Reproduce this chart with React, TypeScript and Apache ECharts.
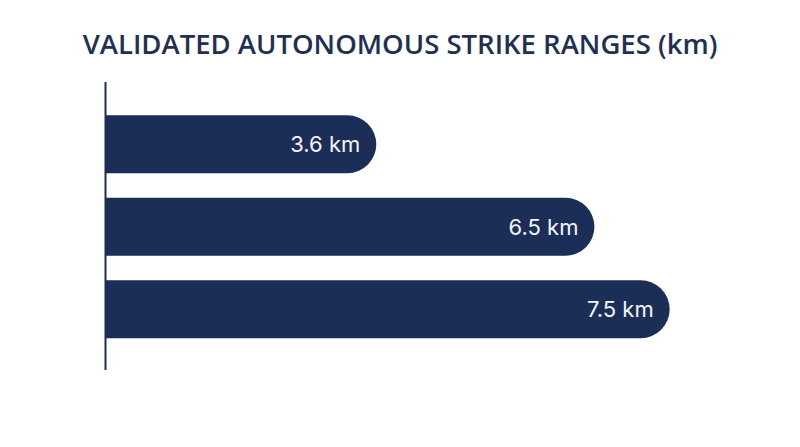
import React, { useEffect, useRef } from 'react';
import * as echarts from 'echarts';

const categories: string[] = ['Test A', 'Test B', 'Test C'];
const rangesKm: number[] = [3.6, 6.5, 7.5];
const axisMax = 9;

const NAVY = '#1b2e58';

export default function App(): JSX.Element {
    const chartRef = useRef<HTMLDivElement>(null);

    useEffect(() => {
        if (chartRef.current === null) return;
        const chart = echarts.init(chartRef.current, undefined, { renderer: 'svg' });

        const option: echarts.EChartsOption = {
            animation: false,
            backgroundColor: '#ffffff',
            title: {
                text: 'VALIDATED AUTONOMOUS STRIKE RANGES (km)',
                left: 'center',
                top: 24,
                textStyle: {
                    fontFamily: 'Open Sans',
                    fontWeight: 600,
                    fontSize: 27.5,
                    color: '#1f2f55',
                },
            },
            grid: { left: 105.5, right: 17.5, top: 103, height: 247.5 },
            xAxis: {
                type: 'value',
                min: 0,
                max: axisMax,
                show: false,
            },
            yAxis: {
                type: 'category',
                inverse: true,
                data: categories,
                axisLine: { show: false },
                axisTick: { show: false },
                axisLabel: { show: false },
            },
            series: [
                {
                    type: 'bar',
                    data: rangesKm,
                    barWidth: 58,
                    itemStyle: { color: NAVY, borderRadius: [0, 29, 29, 0] },
                    label: {
                        show: true,
                        position: 'insideRight',
                        distance: 16,
                        color: '#f4f6fa',
                        fontFamily: 'Inter',
                        fontSize: 22,
                        formatter: (p: any) => `${p.value} km`,
                    },
                },
            ],
            graphic: [
                {
                    type: 'line',
                    shape: { x1: 105.5, y1: 82, x2: 105.5, y2: 370 },
                    style: { stroke: NAVY, lineWidth: 2 },
                    z: 10,
                },
            ],
        };
        chart.setOption(option);

        return () => {
            chart.dispose();
        };
    }, []);

    return <div ref={chartRef} style={{ width: 800, height: 447, margin: -8 }} />;
}
